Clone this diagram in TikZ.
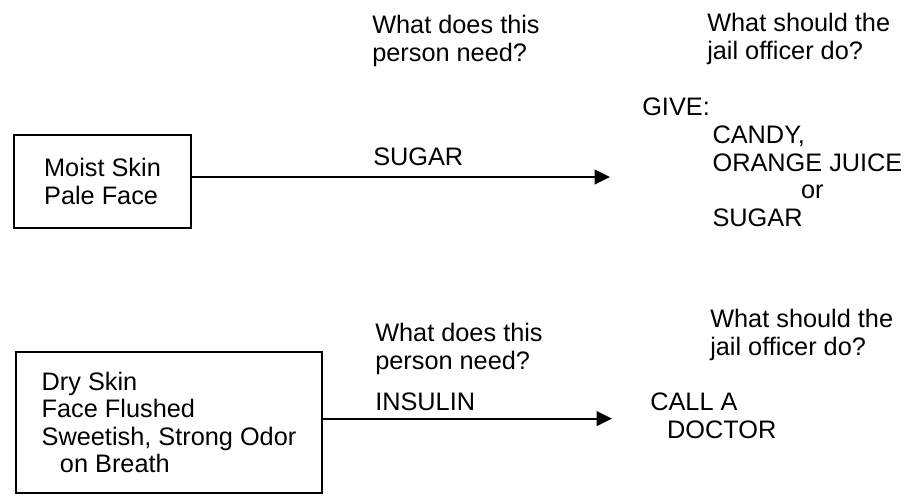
\documentclass[tikz,border=0pt]{standalone}
\usepackage{fontspec}
\setmainfont{Liberation Sans}
\usetikzlibrary{arrows.meta}
\tikzset{
  symptombox/.style={draw, line width=1.3pt, align=left, inner sep=0pt},
  labeltext/.style={anchor=north west, align=left, inner sep=0pt},
  flow/.style={line width=1.3pt, -{Triangle[length=11pt,width=10.5pt]}}
}

\begin{document}
\begin{tikzpicture}[font=\fontsize{18}{19.6}\selectfont]
	\useasboundingbox (0,0) rectangle (22.8,12.375);
	% upper row
	\node[symptombox, minimum width=4.425cm, minimum height=2.325cm] (moist) at (2.5625,7.8375) {Moist Skin\\Pale Face};
	\node[labeltext] (needA) at (9.3,12.0) {What does this\\person need?};
	\node[labeltext] (officerA) at (17.675,12.05) {What should the\\jail officer do?};
	\node[labeltext] (sugar) at (9.325,8.675) {SUGAR};
	\node[labeltext] (give) at (16.05,9.925) {GIVE:\\\hspace*{50pt}CANDY,\\\hspace*{50pt}ORANGE JUICE\\\hspace*{113pt}or\\\hspace*{50pt}SUGAR};
	\coordinate (tipA) at (15.25,7.95);
	\draw[flow] (moist.east |- tipA) -- (tipA);
	% lower row
	\node[symptombox, minimum width=7.65cm, minimum height=3.525cm] (dry) at (4.225,1.8125) {Dry Skin\\Face Flushed\\Sweetish, Strong Odor\\\hspace*{13pt}on Breath};
	\node[labeltext] (needB) at (9.375,4.3) {What does this\\person need?};
	\node[labeltext] (officerB) at (17.75,4.65) {What should the\\jail officer do?};
	\node[labeltext] (insulin) at (9.375,2.55) {INSULIN};
	\node[labeltext] (doctor) at (16.25,2.55) {CALL A\\\hspace*{12pt}DOCTOR};
	\coordinate (tipB) at (15.3,1.91);
	\draw[flow] (dry.east |- tipB) -- (tipB);
\end{tikzpicture}
\end{document}
